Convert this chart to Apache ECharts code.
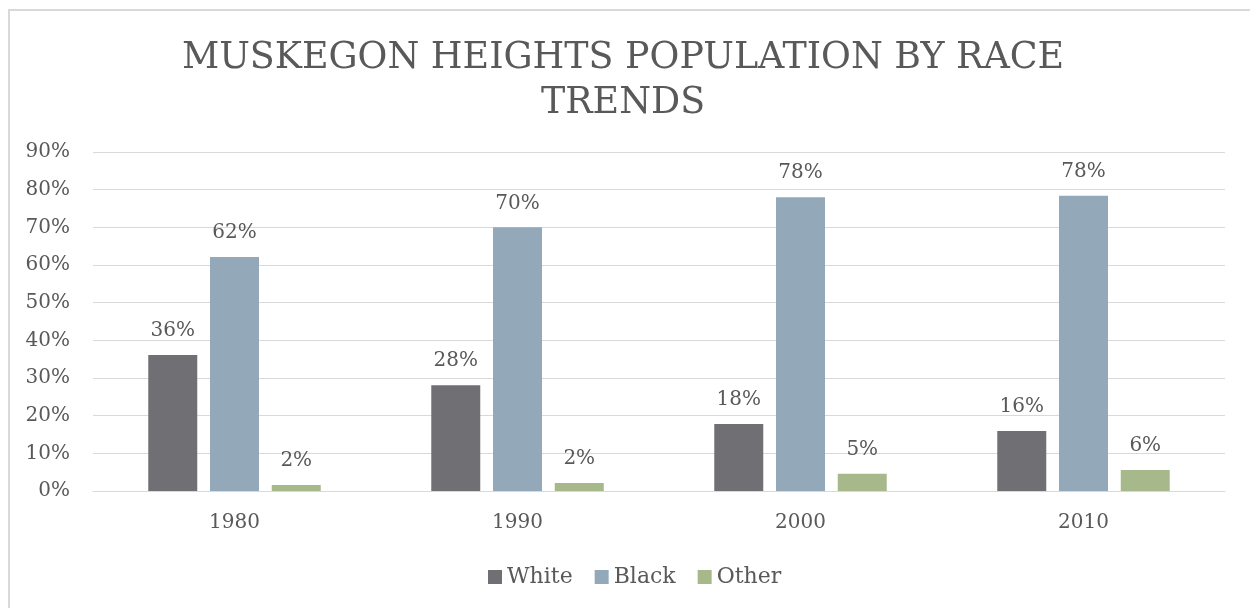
<!DOCTYPE html>
<html>
<head>
<meta charset="utf-8">
<script src="https://cdn.jsdelivr.net/npm/echarts@6/dist/echarts.min.js"></script>
<style>
html,body{margin:0;padding:0;background:#fff;}
#frame{position:absolute;left:8px;top:9px;width:1260px;height:620px;border:2px solid #d9d9d9;box-sizing:border-box;}
#chart{position:absolute;left:0;top:0;width:1250px;height:608px;}
</style>
</head>
<body>
<div id="frame"></div>
<div id="chart"></div>
<script>
const titleText = 'MUSKEGON HEIGHTS POPULATION BY RACE\nTRENDS';
const years = ['1980', '1990', '2000', '2010'];
const whiteValues = [36.1, 28.1, 17.8, 15.9];
const blackValues = [62.1, 70.0, 78.0, 78.4];
const otherValues = [1.6, 2.1, 4.6, 5.6];
const yTicks = [0, 10, 20, 30, 40, 50, 60, 70, 80, 90];

const FONT = '"DejaVu Serif", "Liberation Serif", serif';
const TXT = '#595959';

const chart = echarts.init(document.getElementById('chart'));
const labelCfg = {
  show: true, position: 'top', distance: 14,
  color: TXT, fontFamily: FONT, fontSize: 20,
  formatter: p => Math.round(p.value) + '%'
};
function bar(name, data, color) {
  return {
    name, type: 'bar', data, barWidth: 49, barGap: '26%',
    itemStyle: { color },
    label: labelCfg
  };
}
chart.setOption({
  animation: false,
  title: {
    text: titleText, left: 618, top: 31, textAlign: 'center',
    textStyle: { fontFamily: FONT, fontSize: 36.4, fontWeight: 'normal', color: TXT, lineHeight: 45 }
  },
  legend: {
    data: ['White', 'Black', 'Other'], bottom: 15, left: 483,
    itemWidth: 14, itemHeight: 14, itemGap: 22, icon: 'rect',
    textStyle: { fontFamily: FONT, fontSize: 22, color: TXT }
  },
  grid: { left: 93, right: 25, top: 152, bottom: 117 },
  xAxis: {
    type: 'category', data: years,
    axisLine: { lineStyle: { color: '#d9d9d9', width: 1 } },
    axisTick: { show: false },
    axisLabel: { color: TXT, fontFamily: FONT, fontSize: 20, margin: 22 }
  },
  yAxis: {
    type: 'value', min: yTicks[0], max: yTicks[yTicks.length - 1], interval: 10,
    axisLine: { show: false }, axisTick: { show: false },
    splitLine: { lineStyle: { color: '#d9d9d9', width: 1 } },
    axisLabel: { color: TXT, fontFamily: FONT, fontSize: 20, margin: 23, formatter: '{value}%' }
  },
  series: [
    bar('White', whiteValues, '#706f74'),
    bar('Black', blackValues, '#93a9b9'),
    bar('Other', otherValues, '#a7b98a')
  ]
});
</script>
</body>
</html>
